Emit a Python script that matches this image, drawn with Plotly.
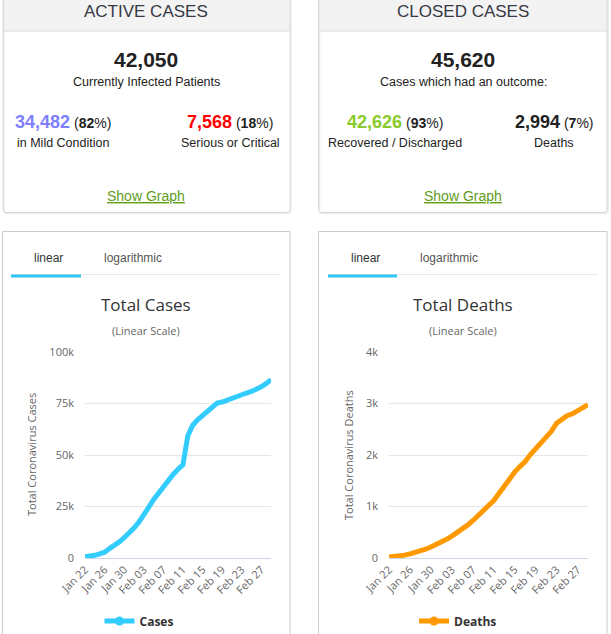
import plotly.graph_objects as go

# daily totals, Jan 22 - Feb 29
dates = (["Jan %02d" % d for d in range(22, 32)] +
         ["Feb %02d" % d for d in range(1, 30)])
total_cases = [580, 845, 1317, 2015, 2800, 4581, 6058, 7813, 9823, 11950,
               14553, 17391, 20630, 24545, 28266, 31439, 34876, 37552, 40553, 43099,
               45134, 59287, 64438, 67100, 69197, 71329, 73332, 75184, 75700, 76677,
               77673, 78651, 79205, 80087, 80828, 81820, 83112, 84615, 86604]
total_deaths = [17, 25, 41, 56, 80, 106, 132, 170, 213, 259,
                304, 362, 426, 492, 565, 638, 724, 813, 910, 1018,
                1115, 1261, 1383, 1526, 1669, 1775, 1873, 2009, 2126, 2247,
                2360, 2460, 2618, 2699, 2763, 2800, 2858, 2923, 2977]
tick_dates = dates[::4]

cases_ticks = [0, 25000, 50000, 75000, 100000]
cases_labels = ["0", "25k", "50k", "75k", "100k"]
deaths_ticks = [0, 1000, 2000, 3000, 4000]
deaths_labels = ["0", "1k", "2k", "3k", "4k"]

active_total = "42,050"
mild, mild_pct = "34,482", "82"
serious, serious_pct = "7,568", "18"
closed_total = "45,620"
recovered, recovered_pct = "42,626", "93"
deaths, deaths_pct = "2,994", "7"

W, H = 611, 634
CARD_FONT = "Liberation Sans"
CHART_FONT = "Open Sans"
BLUE = "#33ccff"
ORANGE = "#ff9900"


def px(x):
    return x / W


def py(y):
    return 1 - y / H


fig = go.Figure()

fig.add_trace(go.Scatter(x=dates, y=total_cases, mode="lines", xaxis="x", yaxis="y",
                         line=dict(color=BLUE, width=5), cliponaxis=False,
                         showlegend=False, hoverinfo="x+y"))
fig.add_trace(go.Scatter(x=[None], y=[None], mode="lines+markers", name="Cases",
                         xaxis="x", yaxis="y", legend="legend",
                         line=dict(color=BLUE, width=5), marker=dict(size=9, color=BLUE)))
fig.add_trace(go.Scatter(x=dates, y=total_deaths, mode="lines", xaxis="x2", yaxis="y2",
                         line=dict(color=ORANGE, width=5), cliponaxis=False,
                         showlegend=False, hoverinfo="x+y"))
fig.add_trace(go.Scatter(x=[None], y=[None], mode="lines+markers", name="Deaths",
                         xaxis="x2", yaxis="y2", legend="legend2",
                         line=dict(color=ORANGE, width=5), marker=dict(size=9, color=ORANGE)))

xax = dict(type="category", categoryorder="array", categoryarray=dates,
           range=[0, len(dates) - 1], tickmode="array", tickvals=tick_dates,
           tickangle=-45, tickfont=dict(family=CHART_FONT, size=11, color="#666"),
           showgrid=False, showline=True, linecolor="#ccd6eb", linewidth=1,
           ticks="", zeroline=False, fixedrange=True, automargin=False)
yax = dict(showgrid=True, gridcolor="#e6e6e6", gridwidth=1, zeroline=False,
           showline=False, ticks="", ticklabelstandoff=10, automargin=False,
           tickfont=dict(family=CHART_FONT, size=11, color="#666"), fixedrange=True)

leg = dict(orientation="h", xanchor="center", yanchor="middle", y=py(621),
           font=dict(family=CHART_FONT, size=12, color="#333", weight="bold"),
           bgcolor="rgba(0,0,0,0)", itemwidth=30)

fig.update_layout(
    width=W, height=H, margin=dict(l=0, r=0, t=0, b=0, pad=0, autoexpand=False),
    paper_bgcolor="white", plot_bgcolor="rgba(0,0,0,0)",
    xaxis=dict(xax, domain=[px(85), px(271)], anchor="y"),
    yaxis=dict(yax, domain=[py(558), py(352)], anchor="x", range=[0, 100000],
               tickvals=cases_ticks, ticktext=cases_labels),
    xaxis2=dict(xax, domain=[px(389), px(588)], anchor="y2"),
    yaxis2=dict(yax, domain=[py(558), py(352)], anchor="x2", range=[0, 4000],
                tickvals=deaths_ticks, ticktext=deaths_labels),
    legend=dict(leg, x=px(139)),
    legend2=dict(leg, x=px(458)),
)


def card_path(x0, x1, y0, y1, r=3):
    # rectangle open at the top, rounded bottom corners
    return ("M %f,%f L %f,%f Q %f,%f %f,%f L %f,%f Q %f,%f %f,%f L %f,%f Z" % (
        px(x0), py(y0), px(x0), py(y1 - r), px(x0), py(y1), px(x0 + r), py(y1),
        px(x1 - r), py(y1), px(x1), py(y1), px(x1), py(y1 - r), px(x1), py(y0)))


shapes = []
# top cards: grey header band + border
for x0, x1 in [(3, 290), (318.5, 607)]:
    shapes.append(dict(type="rect", x0=px(x0), x1=px(x1), y0=py(31), y1=py(-2),
                       fillcolor="#f3f3f3", line=dict(width=0)))
    shapes.append(dict(type="path", path=card_path(x0 + 1, x1 + 1, -2, 213.5),
                       fillcolor="rgba(0,0,0,0)", line=dict(color="#ececec", width=1.5)))
    shapes.append(dict(type="path", path=card_path(x0, x1, -2, 212.5),
                       fillcolor="rgba(0,0,0,0)", line=dict(color="#d8d8d8", width=1)))
    shapes.append(dict(type="line", x0=px(x0), x1=px(x1), y0=py(31), y1=py(31),
                       line=dict(color="#dcdcdc", width=1)))
# bottom chart cards with tabs
for x0, x1, tab0, tab1, sep1 in [(2.5, 290, 11, 81, 281), (318.5, 607, 328, 397, 598)]:
    shapes.append(dict(type="rect", x0=px(x0), x1=px(x1), y0=py(640), y1=py(231.5),
                       fillcolor="rgba(0,0,0,0)", line=dict(color="#cccccc", width=1)))
    shapes.append(dict(type="line", x0=px(tab0), x1=px(sep1), y0=py(274.5), y1=py(274.5),
                       line=dict(color="#e8e8e8", width=1)))
    shapes.append(dict(type="line", x0=px(tab0), x1=px(tab1), y0=py(276), y1=py(276),
                       line=dict(color="#2fc6f4", width=3)))
for s in shapes:
    s.update(xref="paper", yref="paper", layer="below")
fig.update_layout(shapes=shapes)


def note(text, x, y, size, color="#333", family=CARD_FONT, angle=0):
    fig.add_annotation(text=text, x=px(x), y=py(y), xref="paper", yref="paper",
                       xanchor="center", yanchor="middle", showarrow=False,
                       textangle=angle, font=dict(family=family, size=size, color=color))


def split_stat(num, pct, color):
    return ("<span style='color:%s;font-size:18px'><b>%s</b></span> "
            "<span style='font-size:14px'>(<b>%s</b>%%)</span>" % (color, num, pct))


# active cases card
note("ACTIVE CASES", 146, 11, 17, "#363945")
note("<b>%s</b>" % active_total, 146, 60, 21, "#222")
note("Currently Infected Patients", 146, 82, 12.5, "#222")
note(split_stat(mild, mild_pct, "#8080ff"), 63, 122, 14, "#222")
note("in Mild Condition", 63, 143, 12.5, "#222")
note(split_stat(serious, serious_pct, "#ff0000"), 230, 122, 14, "#222")
note("Serious or Critical", 230, 143, 12.5, "#222")
note("<u>Show Graph</u>", 146, 196, 14, "#5e9c1a")

# closed cases card
note("CLOSED CASES", 463, 11, 17, "#363945")
note("<b>%s</b>" % closed_total, 463, 60, 21, "#222")
note("Cases which had an outcome:", 463, 82, 12.5, "#222")
note(split_stat(recovered, recovered_pct, "#8aca2b"), 395, 122, 14, "#222")
note("Recovered / Discharged", 395, 143, 12.5, "#222")
note(split_stat(deaths, deaths_pct, "#222"), 554, 122, 14, "#222")
note("Deaths", 554, 143, 12.5, "#222")
note("<u>Show Graph</u>", 463, 196, 14, "#5e9c1a")

# chart card texts
for cx, lin, lg, title, ytitle, ax in [(146, 48, 133, "Total Cases", "Total Coronavirus Cases", 31),
                                       (463, 365, 449, "Total Deaths", "Total Coronavirus Deaths", 348)]:
    note("linear", lin, 258, 12, "#333")
    note("logarithmic", lg, 258, 12, "#555")
    note(title, cx, 304, 17, "#333", CHART_FONT)
    note("(Linear Scale)", cx, 330, 11, "#666", CHART_FONT)
    note(ytitle, ax, 455, 11, "#666", CHART_FONT, angle=-90)

# page body has an 8px default margin; drop it so the figure sits at the window corner
fig.write_html("out.html", config={"displayModeBar": False},
               post_script="document.body.style.margin = '0';")
